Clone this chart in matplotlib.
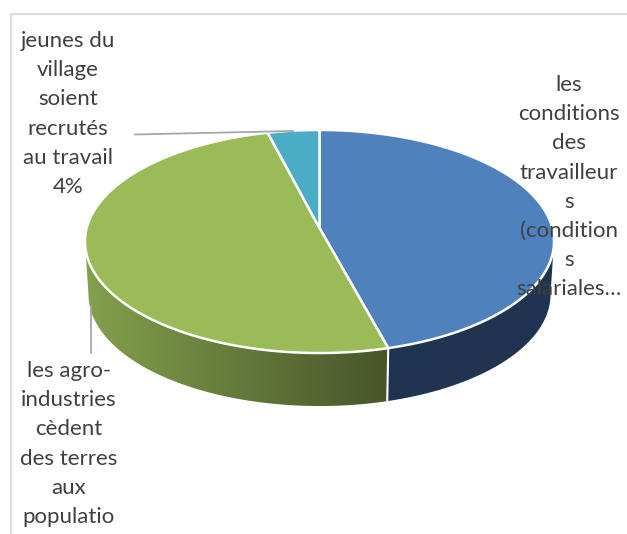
import numpy as np
import matplotlib
matplotlib.use("Agg")
import matplotlib.pyplot as plt
from matplotlib.colors import to_rgb
from matplotlib.patches import Polygon

# Shares of each answer, clockwise from twelve o'clock
shares = [45.8, 50.2, 4]
top_colors = ["#4F81BD", "#9BBB59", "#4BACC6"]
side_left = ["#1F3450", "#83A04C", "#2F7A8E"]
side_right = ["#1F3450", "#47552A", "#2F7A8E"]

labels_conditions = "les\nconditions\ndes\ntravailleur\ns\n(condition\ns\nsalariales…"
labels_agro = "les agro-\nindustries\ncèdent\ndes terres\naux\npopulatio"
labels_jeunes = "jeunes du\nvillage\nsoient\nrecrutés\nau travail\n4%"

W, H = 627, 534
fig = plt.figure(figsize=(W / 100, H / 100), dpi=100, facecolor="white")
ax = fig.add_axes([0, 0, 1, 1])
ax.set_xlim(0, W)
ax.set_ylim(H, 0)
ax.axis("off")

# Tilted disc seen in perspective: the hub sits above the middle of the outline
cx, hub_y = 319.5, 228
half_w, half_h, tilt = 232.8, 109.9, 0.121
depth = 53
lower_scale = 0.985

# Angles run clockwise from the far edge of the disc
edges = np.cumsum([0] + shares) / sum(shares) * 2 * np.pi


def rim(t, scale=1.0, dy=0.0):
    u, v = np.sin(t), -np.cos(t)
    w = 1 - tilt * v
    return cx + scale * half_w * u / w, hub_y + half_h * v / w + dy


# Chart frame, open on the right and the bottom
ax.plot([11, 11, W], [H, 14, 14], color="#DCDCDC", lw=1.6, solid_joinstyle="miter", zorder=1)

# Side wall between the two silhouette points of the disc
near_lo = np.arccos(-tilt)
near_hi = 2 * np.pi - near_lo
for i, (start, end) in enumerate(zip(edges[:-1], edges[1:])):
    lo, hi = max(start, near_lo), min(end, near_hi)
    if lo >= hi:
        continue
    t = np.linspace(lo, hi, 200)
    upper = np.c_[rim(t)]
    lower = np.c_[rim(t, lower_scale, depth)]
    pts = np.r_[upper, lower[::-1]]
    clip = Polygon(pts, closed=True, fc="none", ec="none")
    ax.add_patch(clip)
    x0, x1 = pts[:, 0].min(), pts[:, 0].max()
    y0, y1 = pts[:, 1].min(), pts[:, 1].max()
    c0, c1 = np.array(to_rgb(side_left[i])), np.array(to_rgb(side_right[i]))
    ramp = np.linspace(0, 1, 256)[None, :, None]
    img = ax.imshow(c0 + (c1 - c0) * ramp, extent=(x0, x1, y1, y0), aspect="auto",
                    interpolation="bilinear", zorder=2)
    img.set_clip_path(clip)
ax.set_xlim(0, W)
ax.set_ylim(H, 0)

# Seam between the two visible side segments
xs, ys = rim(edges[1])
xs2, ys2 = rim(edges[1], lower_scale, depth)
ax.plot([xs, xs2], [ys, ys2], color="white", lw=1.5, zorder=3)

# Top face
for i, (start, end) in enumerate(zip(edges[:-1], edges[1:])):
    t = np.linspace(start, end, 300)
    pts = np.r_[[[cx, hub_y]], np.c_[rim(t)]]
    ax.add_patch(Polygon(pts, closed=True, fc=top_colors[i], ec="white", lw=1.8,
                         joinstyle="round", zorder=4))

# Leader lines
ax.plot([135, 293], [134.5, 131], color="#A6A6A6", lw=1.3, zorder=5)
ax.plot([91, 91], [306, 353], color="#A6A6A6", lw=1.3, zorder=5)

# Category labels
text_style = dict(family="Lato", fontsize=16, color="#404040", ha="center", va="top",
                  multialignment="center", linespacing=1.575, zorder=6)
ax.text(68, 31, labels_jeunes, **text_style)
ax.text(569, 75, labels_conditions, **text_style)
ax.text(69, 361, labels_agro, **text_style)

fig.savefig("out.png", dpi=100, facecolor="white")
